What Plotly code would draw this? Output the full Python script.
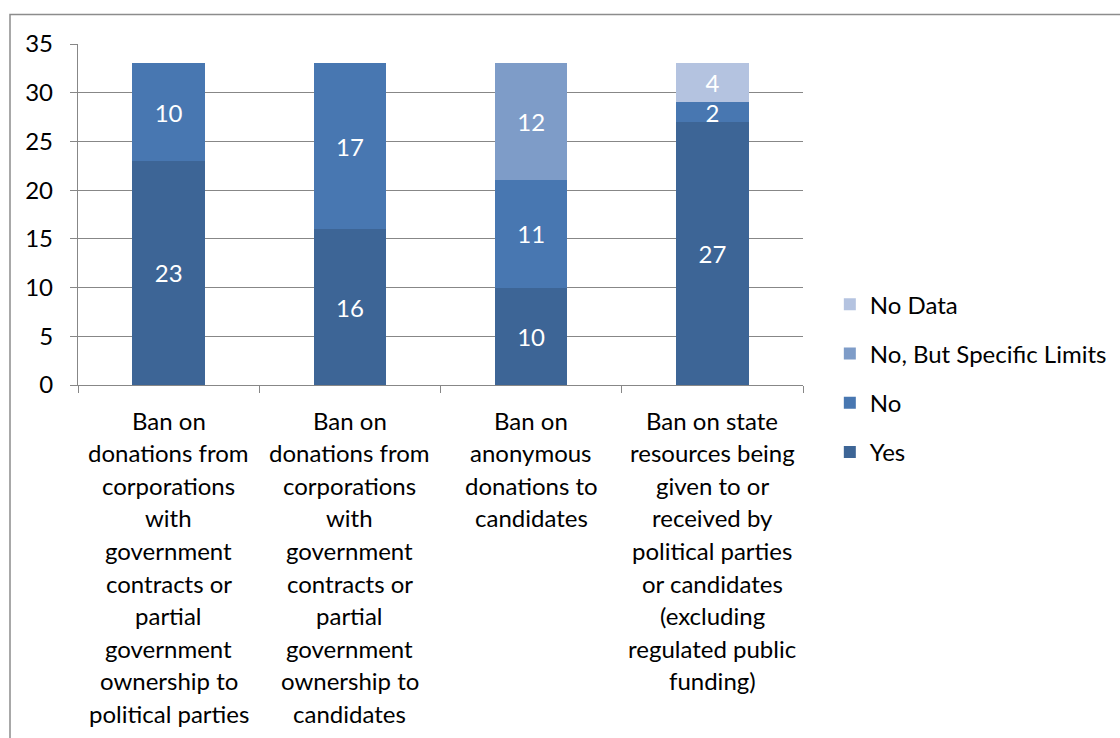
import plotly.graph_objects as go

# Categories (one line per list entry, stacked under each bar)
category_lines = [
    ["Ban on", "donations from", "corporations", "with", "government",
     "contracts or", "partial", "government", "ownership to", "political parties"],
    ["Ban on", "donations from", "corporations", "with", "government",
     "contracts or", "partial", "government", "ownership to", "candidates"],
    ["Ban on", "anonymous", "donations to", "candidates"],
    ["Ban on state", "resources being", "given to or", "received by",
     "political parties", "or candidates", "(excluding", "regulated public",
     "funding)"],
]
categories = ["c1", "c2", "c3", "c4"]

# Series values (None = segment not present)
yes_vals = [23, 16, 10, 27]
no_vals = [10, 17, 11, 2]
no_limits_vals = [None, None, 12, None]
no_data_vals = [None, None, None, 4]

series = [
    ("Yes", yes_vals, "#3D6596"),
    ("No", no_vals, "#4877B1"),
    ("No, But Specific Limits", no_limits_vals, "#7E9CC8"),
    ("No Data", no_data_vals, "#B4C3E0"),
]

y_ticks = [0, 5, 10, 15, 20, 25, 30, 35]

FONT = "Lato, 'Open Sans', sans-serif"
FS = 24

fig = go.Figure()
for i, (name, vals, color) in enumerate(series):
    fig.add_trace(go.Bar(
        x=categories,
        y=vals,
        name=name,
        legendgroup=f"g{i}",
        legendrank=len(series) - i,
        marker=dict(color=color, line=dict(width=0)),
        text=[str(v) if v is not None else "" for v in vals],
        textposition="inside",
        insidetextanchor="middle",
        constraintext="none",
        textangle=0,
        textfont=dict(color="white", size=FS, family=FONT),
        width=0.4,
    ))

# Category labels, one annotation per text line
annotations = []
line_gap = 32.6
for cat, lines in zip(categories, category_lines):
    for j, line in enumerate(lines):
        annotations.append(dict(
            x=cat, xref="x", y=0, yref="y",
            yshift=-(35 + j * line_gap),
            text=line, showarrow=False,
            xanchor="center", yanchor="middle",
            font=dict(size=FS, color="#000000", family=FONT),
        ))

fig.update_layout(
    barmode="stack",
    width=1120, height=738,
    margin=dict(l=78, r=317, t=44, b=353, autoexpand=False),
    paper_bgcolor="white",
    plot_bgcolor="white",
    font=dict(family=FONT, size=FS, color="#000000"),
    showlegend=True,
    legend=dict(
        traceorder="grouped",
        tracegroupgap=15,
        x=1.037, xanchor="left",
        y=0.02, yanchor="middle",
        font=dict(size=FS, family=FONT, color="#000000"),
        itemwidth=30,
        bgcolor="rgba(0,0,0,0)",
    ),
    annotations=annotations,
    shapes=[dict(
        type="rect", xref="paper", yref="paper",
        x0=(10 - 78) / 725, x1=(1135 - 78) / 725,
        y0=(385 - 760) / 341, y1=(385 - 14.5) / 341,
        line=dict(color="#8C8C8C", width=1.5),
        fillcolor="rgba(0,0,0,0)", layer="below",
    )],
)

fig.update_xaxes(
    type="category",
    showticklabels=False,
    tickson="boundaries",
    ticks="outside", ticklen=7, tickcolor="#878787", tickwidth=1.3,
    showgrid=False,
    showline=True, linecolor="#878787", linewidth=1.3,
    range=[-0.5, 3.5],
)
fig.update_yaxes(
    range=[0, 35],
    tickvals=y_ticks,
    ticks="outside", ticklen=7, tickcolor="#878787", tickwidth=1.3,
    showgrid=True, gridcolor="#878787", gridwidth=1.3,
    showline=True, linecolor="#878787", linewidth=1.3,
    zeroline=False,
    tickfont=dict(size=FS, family=FONT, color="#000000"),
    ticklabelstandoff=12,
)

fig.write_html("out.html")
